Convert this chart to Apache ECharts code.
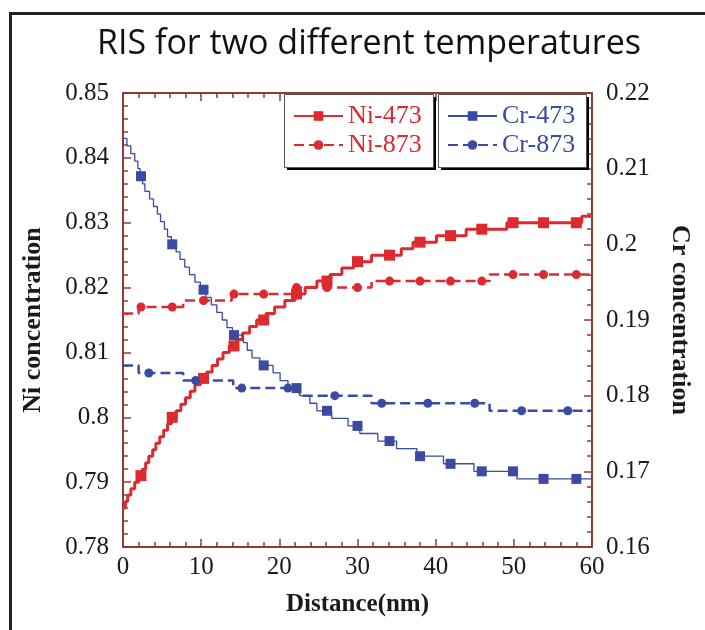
<!DOCTYPE html>
<html>
<head>
<meta charset="utf-8">
<script src="https://cdn.jsdelivr.net/npm/echarts@6/dist/echarts.min.js"></script>
<style>
  html, body { margin: 0; padding: 0; background: #fff; }
  #chart { width: 705px; height: 630px; }
</style>
</head>
<body>
<div id="chart"></div>
<script>
// each step: [distance, value] - value holds until the next step
const ni473Steps = [[0, 0.786], [0.3, 0.787], [0.6, 0.788], [1.0, 0.789], [1.5, 0.790], [2.0, 0.791],
  [2.5, 0.792], [2.9, 0.793], [3.3, 0.794], [3.8, 0.795], [4.2, 0.796], [4.7, 0.797], [5.2, 0.798],
  [5.7, 0.799], [6.2, 0.800], [6.8, 0.801], [7.4, 0.802], [8.0, 0.803], [8.6, 0.804], [9.2, 0.805],
  [9.9, 0.806], [10.7, 0.807], [11.4, 0.808], [12.1, 0.809], [12.8, 0.810], [13.6, 0.811], [14.5, 0.812],
  [15.3, 0.813], [16.2, 0.814], [17.1, 0.815], [18.3, 0.816], [19.4, 0.817], [20.7, 0.818], [22.0, 0.819],
  [23.3, 0.820], [24.8, 0.821], [26.5, 0.822], [28.0, 0.823], [29.5, 0.824], [31.8, 0.825], [35.6, 0.826],
  [37.1, 0.827], [40.1, 0.828], [43.9, 0.829], [49.1, 0.830], [58.7, 0.831]]
const ni873Steps = [[0, 0.816], [2.0, 0.817], [7.7, 0.818], [13.9, 0.819], [22.0, 0.820], [31.8, 0.821], [46.9, 0.822]]
const cr473Steps = [[0, 0.214], [0.5, 0.213], [1.0, 0.212], [1.5, 0.211], [1.9, 0.210], [2.2, 0.209],
  [2.5, 0.208], [2.8, 0.207], [3.4, 0.206], [3.9, 0.205], [4.4, 0.204], [4.8, 0.203], [5.3, 0.202],
  [5.7, 0.201], [6.2, 0.200], [6.8, 0.199], [7.3, 0.198], [7.9, 0.197], [8.5, 0.196], [9.2, 0.195],
  [9.9, 0.194], [10.6, 0.193], [11.3, 0.192], [12.0, 0.191], [12.7, 0.190], [13.3, 0.189], [14.0, 0.188],
  [15.4, 0.187], [15.9, 0.186], [16.5, 0.185], [17.5, 0.184], [19.2, 0.183], [20.1, 0.182], [21.1, 0.181],
  [22.6, 0.180], [23.9, 0.179], [24.8, 0.178], [26.7, 0.177], [28.8, 0.176], [30.3, 0.175], [32.6, 0.174],
  [35.0, 0.173], [37.6, 0.172], [41.0, 0.171], [44.9, 0.170], [50.4, 0.169]]
const cr873Steps = [[0, 0.184], [2.0, 0.183], [7.7, 0.182], [14.1, 0.181], [22.6, 0.180], [31.8, 0.179], [46.9, 0.178]]

// where the markers sit along the lines
const squareX = [2.3, 6.3, 10.3, 14.2, 18.0, 22.2, 26.1, 30.0, 34.1, 38.0, 41.9, 45.9, 49.9, 53.8, 58.0]
const cr873DotX = [3.3, 9.3, 15.2, 21.1, 27.1, 33.1, 39.0, 45.0, 51.0, 56.9]
const distEnd = 60

const RED = '#DD2A2F'
const BLUE = '#3B4AA3'
const AXIS = '#8E3B3B'
const SERIF = 'Liberation Serif'

// step points without symbol + marker points (value read from the step they fall on)
function buildData(steps, markerX) {
  const pts = steps.map((p) => ({ value: [p[0], p[1]], symbol: 'none' }))
  markerX.forEach((mx) => {
    let v = steps[0][1]
    steps.forEach((p) => {
      if (p[0] <= mx) v = p[1]
    })
    pts.push({ value: [mx, v] })
  })
  pts.push({ value: [distEnd, steps[steps.length - 1][1]], symbol: 'none' })
  pts.sort((a, b) => a.value[0] - b.value[0])
  return pts
}

// legend box with a hard black drop shadow
function legendBox(x, y, w, h) {
  return [
    { type: 'rect', left: x + 3, top: y + 3, z: 1, silent: true,
      shape: { width: w, height: h }, style: { fill: '#000' } },
    { type: 'rect', left: x, top: y, z: 1, silent: true,
      shape: { width: w, height: h }, style: { fill: '#fff', stroke: '#555', lineWidth: 1 } }
  ]
}

const tickStyle = { color: AXIS, width: 1.5 }
const xBase = {
  type: 'value',
  min: 0,
  max: 60,
  interval: 10,
  axisLine: { onZero: false, lineStyle: { color: AXIS, width: 2 } },
  axisTick: { inside: true, length: 8, lineStyle: tickStyle },
  minorTick: { show: true, splitNumber: 5, length: 5, lineStyle: tickStyle },
  splitLine: { show: false }
}
const yBase = {
  type: 'value',
  interval: 0.01,
  axisLine: { show: true, onZero: false, lineStyle: { color: AXIS, width: 2 } },
  axisTick: { show: true, inside: true, length: 8, lineStyle: tickStyle },
  minorTick: { show: true, splitNumber: 5, length: 5, lineStyle: tickStyle },
  splitLine: { show: false },
  axisLabel: { fontFamily: SERIF, fontSize: 25, color: '#1a1a1a', margin: 14 },
  nameLocation: 'middle',
  nameTextStyle: { fontFamily: SERIF, fontWeight: 'bold', fontSize: 26, color: '#1a1a1a' }
}
const legendBase = {
  orient: 'vertical',
  top: 94,
  z: 5,
  itemWidth: 49,
  itemHeight: 12,
  itemGap: 3,
  padding: [9, 11, 9, 9],
  textStyle: { fontFamily: SERIF, fontSize: 26 }
}

const chart = echarts.init(document.getElementById('chart'))
chart.setOption({
  animation: false,
  backgroundColor: '#fff',
  title: {
    text: 'RIS for two different temperatures',
    left: 92,
    top: 22,
    textStyle: { fontFamily: 'Open Sans', fontWeight: 'normal', fontSize: 34, color: '#111' }
  },
  graphic: [
    {
      type: 'rect',
      left: 8,
      top: 11,
      silent: true,
      z: -10,
      shape: { width: 760, height: 700 },
      style: { fill: 'none', stroke: '#222', lineWidth: 3 }
    }
  ].concat(legendBox(284, 94, 149, 73), legendBox(438, 94, 148, 73)),
  grid: { left: 123, top: 93, right: 113, bottom: 83, outerBoundsMode: 'none' },
  legend: [
    Object.assign({}, legendBase, {
      left: 284,
      data: [
        { name: 'Ni-473', textStyle: { color: RED } },
        { name: 'Ni-873', textStyle: { color: RED } }
      ]
    }),
    Object.assign({}, legendBase, {
      left: 438,
      data: [
        { name: 'Cr-473', textStyle: { color: BLUE } },
        { name: 'Cr-873', textStyle: { color: BLUE } }
      ]
    })
  ],
  xAxis: [
    Object.assign({}, xBase, {
      position: 'bottom',
      name: 'Distance(nm)',
      nameLocation: 'middle',
      nameGap: 45,
      nameTextStyle: { fontFamily: SERIF, fontWeight: 'bold', fontSize: 25, color: '#1a1a1a' },
      axisLabel: { fontFamily: SERIF, fontSize: 25, color: '#1a1a1a', margin: 8 }
    }),
    Object.assign({}, xBase, { position: 'top', axisLabel: { show: false } })
  ],
  yAxis: [
    Object.assign({}, yBase, {
      position: 'left',
      min: 0.78,
      max: 0.85,
      name: 'Ni concentration',
      nameGap: 77,
      nameRotate: 90
    }),
    Object.assign({}, yBase, {
      position: 'right',
      min: 0.16,
      max: 0.22,
      name: 'Cr concentration',
      nameGap: 75,
      nameRotate: -90
    })
  ],
  series: [
    {
      name: 'Ni-473',
      type: 'line',
      step: 'end',
      xAxisIndex: 0,
      yAxisIndex: 0,
      symbol: 'rect',
      symbolSize: 11,
      showAllSymbol: true,
      color: RED,
      lineStyle: { color: RED, width: 3 },
      itemStyle: { color: RED },
      data: buildData(ni473Steps, squareX)
    },
    {
      name: 'Ni-873',
      type: 'line',
      step: 'end',
      xAxisIndex: 0,
      yAxisIndex: 0,
      symbol: 'circle',
      symbolSize: 9,
      showAllSymbol: true,
      color: RED,
      lineStyle: { color: RED, width: 2.5, type: [10, 5] },
      itemStyle: { color: RED },
      data: buildData(ni873Steps, squareX)
    },
    {
      name: 'Cr-473',
      type: 'line',
      step: 'end',
      xAxisIndex: 0,
      yAxisIndex: 1,
      symbol: 'rect',
      symbolSize: 10,
      showAllSymbol: true,
      color: BLUE,
      lineStyle: { color: BLUE, width: 1.3 },
      itemStyle: { color: BLUE },
      data: buildData(cr473Steps, squareX)
    },
    {
      name: 'Cr-873',
      type: 'line',
      step: 'end',
      xAxisIndex: 0,
      yAxisIndex: 1,
      symbol: 'circle',
      symbolSize: 9,
      showAllSymbol: true,
      color: BLUE,
      lineStyle: { color: BLUE, width: 2.5, type: [10, 5] },
      itemStyle: { color: BLUE },
      data: buildData(cr873Steps, cr873DotX)
    }
  ]
})
</script>
</body>
</html>
